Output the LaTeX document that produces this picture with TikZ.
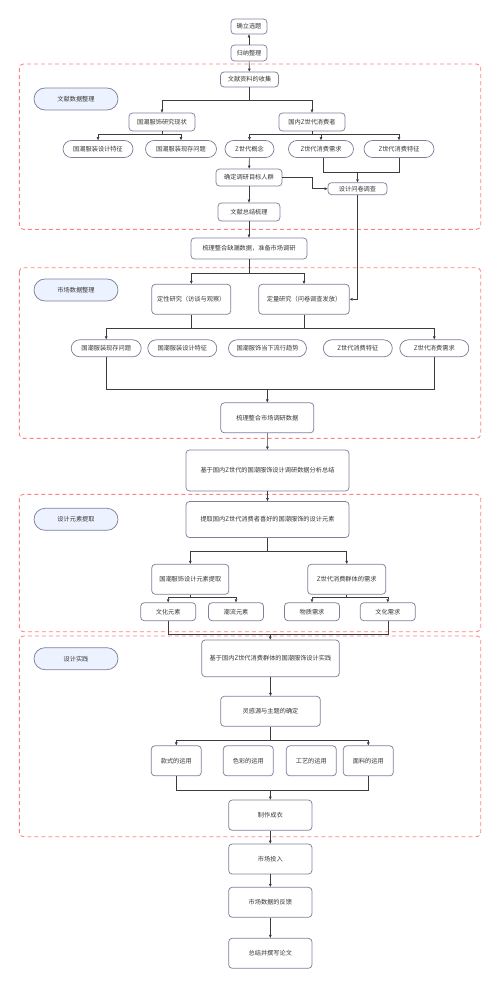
\documentclass[tikz,border=0pt]{standalone}
\usepackage{fontspec}
\newfontfamily\cjk{Noto Sans CJK SC}
\usepackage{tikz}
\usetikzlibrary{positioning, arrows.meta, shapes.misc}
\definecolor{BoxColor}{RGB}{128,128,156}
\definecolor{LineColor}{RGB}{60,60,60}
\definecolor{FrameColor}{RGB}{255,130,130}
\definecolor{TagColor}{RGB}{236,242,255}
\definecolor{TextColor}{RGB}{55,55,55}
\tikzstyle{arrow} = [LineColor, line width=0.6pt, -{Triangle[length=3pt,width=2.6pt]}]
\tikzstyle{line} = [LineColor, line width=0.6pt]
\tikzstyle{frame} = [FrameColor, line width=0.9pt, dash pattern=on 4pt off 3pt, rounded corners=4pt]
\tikzset{
  base/.style={draw=BoxColor, line width=0.75pt, fill=white, text=TextColor, font=\cjk\fontsize{6.2}{7}\selectfont, inner sep=1pt, align=center},
  box/.style={base, rectangle, rounded corners=3.5pt},
  pill/.style={base, rounded rectangle},
  tag/.style={pill, fill=TagColor, minimum width=86pt, minimum height=22pt},
  sz/.style 2 args={minimum width=#1pt, minimum height=#2pt}
}
\begin{document}
\begin{tikzpicture}[x=1pt, y=-1pt]
  \useasboundingbox (0,0) rectangle (500,988);

  % Frames
  \draw[frame] (19.3,64) rectangle (480.7,229.3);
  \draw[frame] (19.3,267.7) rectangle (480.7,438.3);
  \draw[frame] (19.3,494.3) rectangle (480.7,631.7);
  \draw[frame] (19.3,636) rectangle (480.7,836.7);

  % Tags
  \node[tag] (tag1) at (76,99) {文献数据整理};
  \node[tag] (tag2) at (76,290) {市场数据整理};
  \node[tag] (tag3) at (76,519.3) {设计元素提取};
  \node[tag] (tag4) at (76,658.7) {设计实践};

  % Topic
  \node[box, sz={36}{15}] (qlxt) at (249,26.5) {确立选题};
  \node[box, sz={36}{16}] (gnzl) at (249,53) {归纳整理};
  \draw[arrow] (gnzl) -- (qlxt);

  % Literature
  \node[box, sz={58}{15}] (wxzl) at (249.5,79.5) {文献资料的收集};
  \node[box, sz={66}{18}] (gcxz) at (162,122) {国潮服饰研究现状};
  \node[box, sz={66}{18}] (zxfz) at (312,122) {国内Z世代消费者};
  \node[pill, sz={72}{17}] (gsjt) at (98,149) {国潮服装设计特征};
  \node[pill, sz={73}{17}] (gxwt) at (181,149) {国潮服装现存问题};
  \node[pill, sz={51}{17}] (zgn) at (249.5,149) {Z世代概念};
  \node[pill, sz={67}{17}] (zxq) at (321,149) {Z世代消费需求};
  \node[pill, sz={72}{17}] (ztz) at (399,149) {Z世代消费特征};
  \node[box, sz={66}{17}] (qdrq) at (249,177.5) {确定调研目标人群};
  \node[box, sz={59}{12}] (wjdc) at (357.5,188.7) {设计问卷调查};
  \node[box, sz={62}{18}] (wxzj) at (249,212) {文献总结梳理};
  \node[box, sz={116}{21}] (slzh) at (249,248.5) {梳理整合缺漏数据，准备市场调研};

  \coordinate (s1) at (249.5,100);
  \coordinate (s2) at (162,134.7);
  \coordinate (s3) at (312,134.7);
  \coordinate (m1) at (357.5,172);
  \draw[arrow] (gnzl) -- (wxzl);
  \draw[line] (wxzl) -- (s1);
  \draw[arrow] (s1) -| (gcxz.north);
  \draw[arrow] (s1) -| (zxfz.north);
  \draw[line] (gcxz) -- (s2);
  \draw[arrow] (s2) -| (gsjt.north);
  \draw[arrow] (s2) -| (gxwt.north);
  \draw[line] (zxfz) -- (s3);
  \draw[arrow] (s3) -| (zgn.north);
  \draw[arrow] (s3) -| (zxq.north);
  \draw[arrow] (s3) -| (ztz.north);
  \draw[arrow] (zgn) -- (qdrq);
  \draw[line] ([xshift=2pt]zxq.south) |- (m1);
  \draw[line] (ztz.south) |- (m1);
  \draw[arrow] (m1) -- (wjdc.north);
  \draw[arrow] (qdrq.east) -- ++(30,0) |- (wjdc.west);
  \draw[arrow] (qdrq) -- (wxzj);
  \draw[arrow] (wxzj) -- (slzh);

  % Market research
  \node[box, sz={79}{30}] (dxyj) at (191.3,299.3) {定性研究（访谈与观察）};
  \node[box, sz={90.6}{30}] (dlyj) at (304,299.3) {定量研究（问卷调查发放）};
  \node[pill, sz={72}{17}] (sc1) at (106.2,348.3) {国潮服装现存问题};
  \node[pill, sz={71}{17}] (sc2) at (182.3,348.3) {国潮服装设计特征};
  \node[pill, sz={80}{17}] (sc3) at (267.5,348.3) {国潮服饰当下流行趋势};
  \node[pill, sz={71}{17}] (sc4) at (357.8,348.3) {Z世代消费特征};
  \node[pill, sz={71}{17}] (sc5) at (434.3,348.3) {Z世代消费需求};
  \node[box, sz={93}{30}] (slsc) at (267.3,417.8) {梳理整合市场调研数据};
  \node[box, sz={163}{41}] (fxzj) at (267.5,470.5) {基于国内Z世代的国潮服饰设计调研数据分析总结};

  \coordinate (s4) at (249,273.3);
  \coordinate (s5) at (267.3,328.3);
  \coordinate (m2) at (267.3,389);
  \draw[arrow] (wjdc.south) |- (dlyj.east);
  \draw[line] (slzh) -- (s4);
  \draw[arrow] (s4) -| (dxyj.north);
  \draw[arrow] (s4) -| (dlyj.north);
  \draw[line] (dxyj.south) |- (s5);
  \draw[line] (dlyj.south) |- (s5);
  \draw[arrow] (s5) -| (sc1.north);
  \draw[arrow] (s5) -| (sc5.north);
  \draw[line] (sc1.south) |- (m2);
  \draw[line] (sc5.south) |- (m2);
  \draw[arrow] (m2) -- (slsc.north);
  \draw[arrow] (slsc) -- (fxzj);

  % Design elements
  \node[box, sz={163}{36}] (tqys) at (267.5,519.5) {提取国内Z世代消费者喜好的国潮服饰的设计元素};
  \node[box, sz={77}{30}] (gcts) at (190.3,579.3) {国潮服饰设计元素提取};
  \node[box, sz={78}{30}] (zxqt) at (346.7,579.3) {Z世代消费群体的需求};
  \node[box, sz={55}{18}] (whys) at (168.2,611.7) {文化元素};
  \node[box, sz={55}{18}] (clys) at (236,611.7) {潮流元素};
  \node[box, sz={55}{18}] (wzxq) at (312,611.7) {物质需求};
  \node[box, sz={55}{18}] (whxq) at (387.8,611.7) {文化需求};

  \coordinate (s6) at (267.5,551);
  \coordinate (s7) at (190.3,597.3);
  \coordinate (s8) at (346.7,597.3);
  \coordinate (m3) at (270.3,634.3);
  \draw[arrow] (fxzj) -- (tqys);
  \draw[line] (tqys) -- (s6);
  \draw[arrow] (s6) -| (gcts.north);
  \draw[arrow] (s6) -| (zxqt.north);
  \draw[line] (gcts) -- (s7);
  \draw[arrow] (s7) -| (whys.north);
  \draw[arrow] (s7) -| (clys.north);
  \draw[line] (zxqt) -- (s8);
  \draw[arrow] (s8) -| (wzxq.north);
  \draw[arrow] (s8) -| (whxq.north);
  \draw[line] (whys.south) |- (m3);
  \draw[line] (whxq.south) |- (m3);

  % Design practice
  \node[box, sz={137.6}{36.7}] (sjsj) at (270.5,658.3) {基于国内Z世代消费群体的国潮服饰设计实践};
  \node[box, sz={99.6}{30}] (lgy) at (270.5,711.3) {灵感源与主题的确定};
  \node[box, sz={50}{30}] (ksyy) at (176.3,760.8) {款式的运用};
  \node[box, sz={50}{30}] (scyy) at (248.3,760.8) {色彩的运用};
  \node[box, sz={50}{30}] (gyyy) at (311.3,760.8) {工艺的运用};
  \node[box, sz={50}{30}] (mlyy) at (368.3,760.8) {面料的运用};
  \node[box, sz={83.3}{30.3}] (zzcy) at (270.3,815.2) {制作成衣};

  \coordinate (s9) at (270.5,740);
  \coordinate (m4) at (270.3,790);
  \draw[arrow] (m3) -- (sjsj.north -| m3);
  \draw[arrow] (sjsj) -- (lgy);
  \draw[line] (lgy) -- (s9);
  \draw[arrow] (s9) -| (ksyy.north);
  \draw[arrow] (s9) -| (mlyy.north);
  \draw[line] (ksyy.south) |- (m4);
  \draw[line] (mlyy.south) |- (m4);
  \draw[arrow] (m4) -- (zzcy.north);

  % Results
  \node[box, sz={83.3}{30}] (sctr) at (270.3,859) {市场投入};
  \node[box, sz={83.3}{30}] (scfk) at (270.3,902.3) {市场数据的反馈};
  \node[box, sz={83.3}{30}] (zjlw) at (270.3,953.3) {总结并撰写论文};
  \draw[arrow] (zzcy) -- (sctr);
  \draw[arrow] (sctr) -- (scfk);
  \draw[arrow] (scfk) -- (zjlw);
\end{tikzpicture}
\end{document}
